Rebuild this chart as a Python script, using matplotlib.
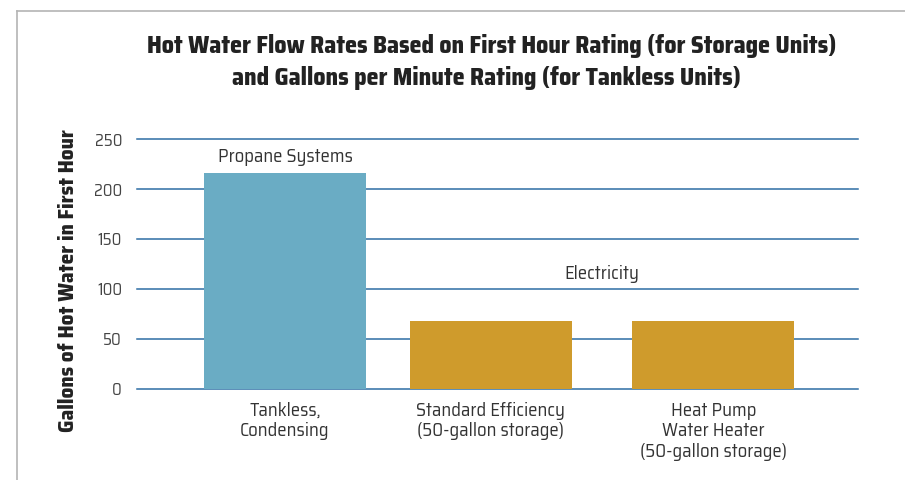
import matplotlib
matplotlib.use("Agg")
import matplotlib.pyplot as plt
from matplotlib.lines import Line2D

categories = ["Tankless,\nCondensing", "Standard Efficiency\n(50-gallon storage)",
              "Heat Pump\nWater Heater\n(50-gallon storage)"]
values = [216, 68, 68]
groups = ["Propane Systems", "Electricity"]
yticks = [0, 50, 100, 150, 200, 250]
colors = ["#6aacc4", "#cf9b2c", "#cf9b2c"]
positions = [0, 1, 2.08]

font = ["Saira SemiCondensed", "Roboto Condensed", "DejaVu Sans"]

fig = plt.figure(figsize=(9.05, 4.8), dpi=100)
ax = fig.add_axes([0.151, 0.1906, 0.797, 0.5192])

ax.bar(positions, values, width=0.786, color=colors, zorder=3)
ax.set_ylim(0, 250)
ax.set_xlim(-0.72, 2.782)
ax.set_yticks(yticks)
ax.set_yticklabels([str(t) for t in yticks], fontfamily=font, fontsize=12, color="#444444")
ax.set_xticks(positions)
ax.set_xticklabels(categories, fontfamily=font, fontsize=13.5, color="#333333", linespacing=1.18)
ax.tick_params(axis="both", length=0)
ax.tick_params(axis="y", pad=10.5)
ax.tick_params(axis="x", pad=9.5)
ax.grid(axis="y", color="#2e6da4", linewidth=1.1, zorder=0)
for gl in ax.get_ygridlines():
    gl.set_clip_on(False)
for s in ax.spines.values():
    s.set_visible(False)

ax.text(positions[0], 232, groups[0], ha="center", va="center", fontfamily=font,
        fontsize=13.5, color="#333333")
ax.text((positions[1] + positions[2]) / 2, 115, groups[1], ha="center", va="center",
        fontfamily=font, fontsize=13.5, color="#333333")

ax.set_ylabel("Gallons of Hot Water in First Hour", fontfamily=font, fontweight=800,
              fontsize=15.3, color="#222222")
ax.yaxis.set_label_coords(-0.0814, 0.435)

fig.text(0.5436, 0.904, "Hot Water Flow Rates Based on First Hour Rating (for Storage Units)",
         ha="center", va="center", fontfamily=font, fontweight=800, fontsize=17.3, color="#222222")
fig.text(0.538, 0.8375, "and Gallons per Minute Rating (for Tankless Units)",
         ha="center", va="center", fontfamily=font, fontweight=800, fontsize=17.3, color="#222222")

# frame lines
fig.add_artist(Line2D([17 / 905, 17 / 905], [0, 1 - 10.7 / 480], transform=fig.transFigure,
                      color="#b4b4b4", linewidth=1.2))
fig.add_artist(Line2D([17 / 905, 1], [1 - 10.7 / 480, 1 - 10.7 / 480], transform=fig.transFigure,
                      color="#b4b4b4", linewidth=1.2))

fig.savefig("out.png", dpi=100)
